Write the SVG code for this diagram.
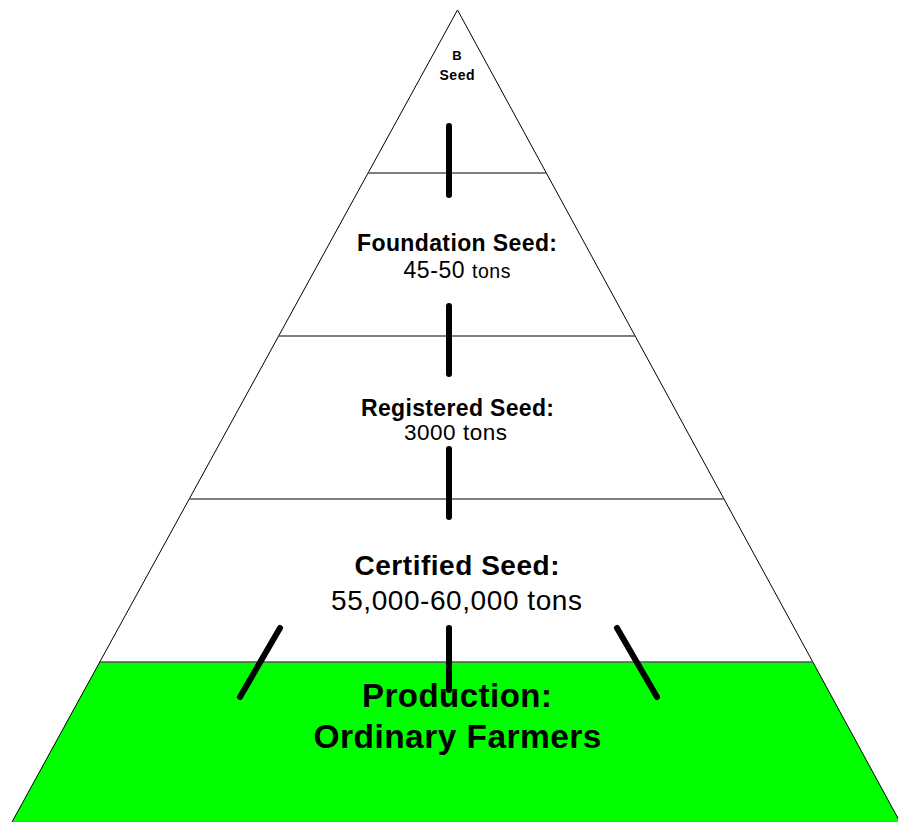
<svg xmlns="http://www.w3.org/2000/svg" width="898" height="823" viewBox="0 0 898 823">
<style>
.t{font-family:"Liberation Sans",Arial,sans-serif;fill:#000;text-anchor:middle}
.b{font-weight:bold}
.div{stroke:#555;stroke-width:1.6;fill:none}
.edge{stroke:#000;stroke-width:1;fill:none}
.con{stroke:#000;stroke-width:6;stroke-linecap:round;fill:none}
</style>
<rect x="0" y="0" width="898" height="823" fill="#fff"/>
<g id="pyramid">
<polygon points="457.5,10 12,822 900,822" fill="#fff" stroke="none"/>
<polygon points="99.8,662 812.8,662 900,822 12,822" fill="#00ff00"/>
<polyline class="edge" points="12,822 457.5,10 900,822"/>
<line class="div" x1="368.1" y1="173" x2="546.3" y2="173"/>
<line class="div" x1="278.7" y1="336" x2="635.2" y2="336"/>
<line class="div" x1="189.2" y1="499" x2="724" y2="499"/>
<line class="div" x1="99.8" y1="662" x2="812.8" y2="662"/>
</g>
<g id="breeder-seed">
<text class="t b" x="457" y="60" font-size="13">B</text>
<text class="t b" x="457" y="80" font-size="14" textLength="35" lengthAdjust="spacing">Seed</text>
</g>
<g id="foundation-seed">
<text class="t b" x="457" y="251" font-size="23" textLength="200" lengthAdjust="spacing">Foundation Seed:</text>
<text class="t" x="457" y="278" textLength="107" lengthAdjust="spacing"><tspan font-size="23">45-50 </tspan><tspan font-size="19.5">tons</tspan></text>
</g>
<g id="registered-seed">
<text class="t b" x="457.5" y="416" font-size="23" textLength="193" lengthAdjust="spacing">Registered Seed:</text>
<text class="t" x="455.5" y="440" font-size="22.5" textLength="103" lengthAdjust="spacing">3000 tons</text>
</g>
<g id="certified-seed">
<text class="t b" x="457" y="575" font-size="28" textLength="205" lengthAdjust="spacing">Certified Seed:</text>
<text class="t" x="456.5" y="610" font-size="28" textLength="251" lengthAdjust="spacing">55,000-60,000 tons</text>
</g>
<g id="connectors">
<line class="con" x1="449" y1="126" x2="449" y2="195"/>
<line class="con" x1="449" y1="306" x2="449" y2="374"/>
<line class="con" x1="449" y1="449" x2="449" y2="517"/>
<line class="con" x1="449" y1="628" x2="449" y2="690"/>
<line class="con" x1="280" y1="628" x2="240" y2="697"/>
<line class="con" x1="617" y1="628" x2="657" y2="697"/>
</g>
<g id="production">
<text class="t b" x="457" y="707" font-size="33" textLength="190" lengthAdjust="spacing">Production:</text>
<text class="t b" x="457.5" y="748" font-size="33.5" textLength="288" lengthAdjust="spacing">Ordinary Farmers</text>
</g>
</svg>
